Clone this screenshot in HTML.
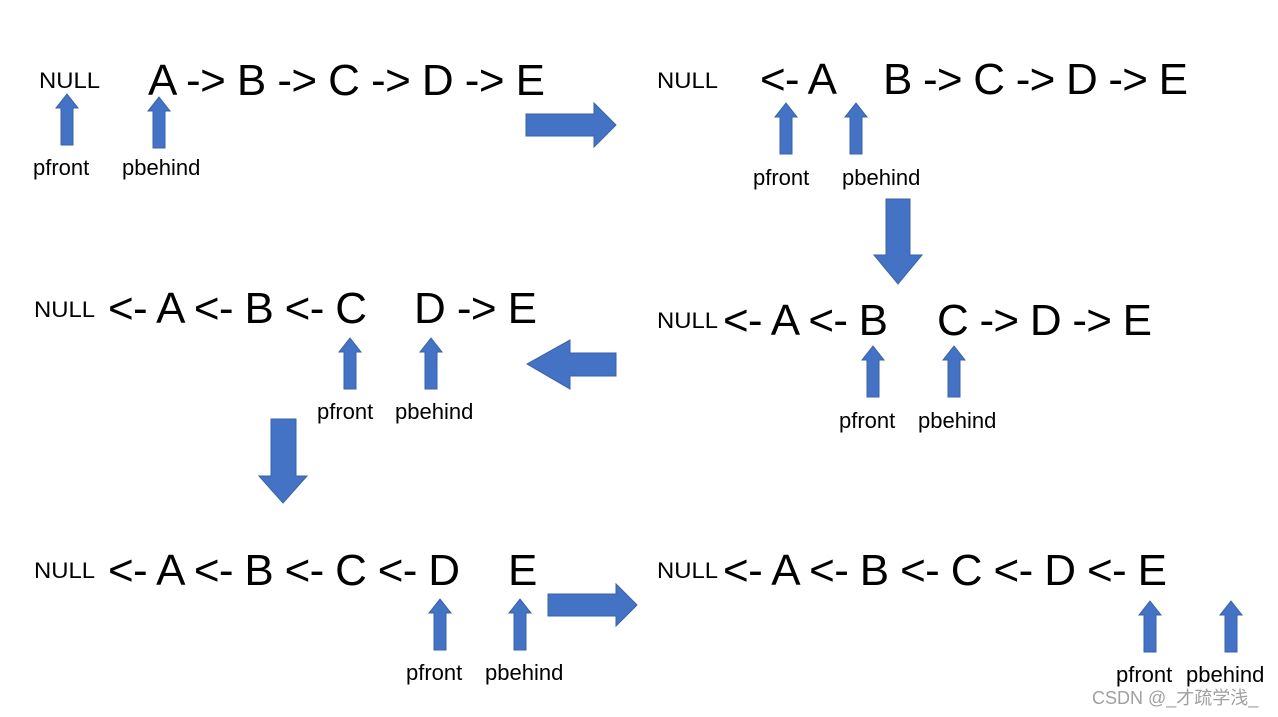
<!DOCTYPE html>
<html><head><meta charset="utf-8"><style>html,body{margin:0;padding:0;background:#fff;width:1278px;height:717px;overflow:hidden}</style></head>
<body>
<svg width="1278" height="717" viewBox="0 0 1278 717" xmlns="http://www.w3.org/2000/svg" font-family="Liberation Sans, Arial, sans-serif">
<defs>
<path id="up" d="M0,0 L11,14 L6,14 L6,51 L-6,51 L-6,14 L-11,14 Z" fill="#4472c4" stroke="#3a62a8" stroke-width="1"/>
</defs>
<g fill="#000">
<!-- row 1 left -->
<text x="39" y="88" font-size="22" textLength="61" lengthAdjust="spacingAndGlyphs">NULL</text>
<text x="148" y="95" font-size="44" textLength="397" lengthAdjust="spacing">A -&gt; B -&gt; C -&gt; D -&gt; E</text>
<text x="33" y="175" font-size="22">pfront</text>
<text x="122" y="175" font-size="22">pbehind</text>
<!-- row 1 right -->
<text x="657" y="88" font-size="22" textLength="61" lengthAdjust="spacingAndGlyphs">NULL</text>
<text x="760" y="94" font-size="44" textLength="77" lengthAdjust="spacing">&lt;- A</text>
<text x="883" y="94" font-size="44" textLength="305" lengthAdjust="spacing">B -&gt; C -&gt; D -&gt; E</text>
<text x="753" y="185" font-size="22">pfront</text>
<text x="842" y="185" font-size="22">pbehind</text>
<!-- row 2 right -->
<text x="657" y="328" font-size="22" textLength="61" lengthAdjust="spacingAndGlyphs">NULL</text>
<text x="723" y="335" font-size="44" textLength="165" lengthAdjust="spacing">&lt;- A &lt;- B</text>
<text x="937" y="335" font-size="44" textLength="215" lengthAdjust="spacing">C -&gt; D -&gt; E</text>
<text x="839" y="428" font-size="22">pfront</text>
<text x="918" y="428" font-size="22">pbehind</text>
<!-- row 2 left -->
<text x="34" y="317" font-size="22" textLength="61" lengthAdjust="spacingAndGlyphs">NULL</text>
<text x="108" y="323" font-size="44" textLength="259" lengthAdjust="spacing">&lt;- A &lt;- B &lt;- C</text>
<text x="414" y="323" font-size="44" textLength="123" lengthAdjust="spacing">D -&gt; E</text>
<text x="317" y="419" font-size="22">pfront</text>
<text x="395" y="419" font-size="22">pbehind</text>
<!-- row 3 left -->
<text x="34" y="578" font-size="22" textLength="61" lengthAdjust="spacingAndGlyphs">NULL</text>
<text x="108" y="585" font-size="44" textLength="352" lengthAdjust="spacing">&lt;- A &lt;- B &lt;- C &lt;- D</text>
<text x="508" y="585" font-size="44">E</text>
<text x="406" y="680" font-size="22">pfront</text>
<text x="485" y="680" font-size="22">pbehind</text>
<!-- row 3 right -->
<text x="657" y="578" font-size="22" textLength="61" lengthAdjust="spacingAndGlyphs">NULL</text>
<text x="723" y="585" font-size="44" textLength="444" lengthAdjust="spacing">&lt;- A &lt;- B &lt;- C &lt;- D &lt;- E</text>
<text x="1116" y="682" font-size="22">pfront</text>
<text x="1186" y="682" font-size="22">pbehind</text>
</g>
<text x="1092" y="704" font-size="18" fill="#a0a0a0" font-family="Liberation Sans, Noto Sans CJK SC, sans-serif">CSDN @_才疏学浅_</text>

<!-- small up arrows -->
<use href="#up" x="67" y="94"/>
<use href="#up" x="159" y="97"/>
<use href="#up" x="786" y="103"/>
<use href="#up" x="856" y="103"/>
<use href="#up" x="873" y="346"/>
<use href="#up" x="954" y="346"/>
<use href="#up" x="350" y="338"/>
<use href="#up" x="431" y="338"/>
<use href="#up" x="440" y="599"/>
<use href="#up" x="520" y="599"/>
<use href="#up" x="1150" y="601"/>
<use href="#up" x="1231" y="601"/>

<!-- big arrows -->
<g fill="#4472c4" stroke="#3a62a8" stroke-width="1">
<path d="M526,114 L594,114 L594,103 L616,125 L594,147 L594,136 L526,136 Z"/>
<path d="M886,199 L910,199 L910,255 L922,255 L898,284 L874,255 L886,255 Z"/>
<path d="M616,353 L570,353 L570,340 L527,364 L570,389 L570,376 L616,376 Z"/>
<path d="M271,419 L296,419 L296,476 L307,476 L283,503 L259,476 L271,476 Z"/>
<path d="M548,594 L616,594 L616,584 L637,605 L616,626 L616,616 L548,616 Z"/>
</g>
</svg>
</body></html>
